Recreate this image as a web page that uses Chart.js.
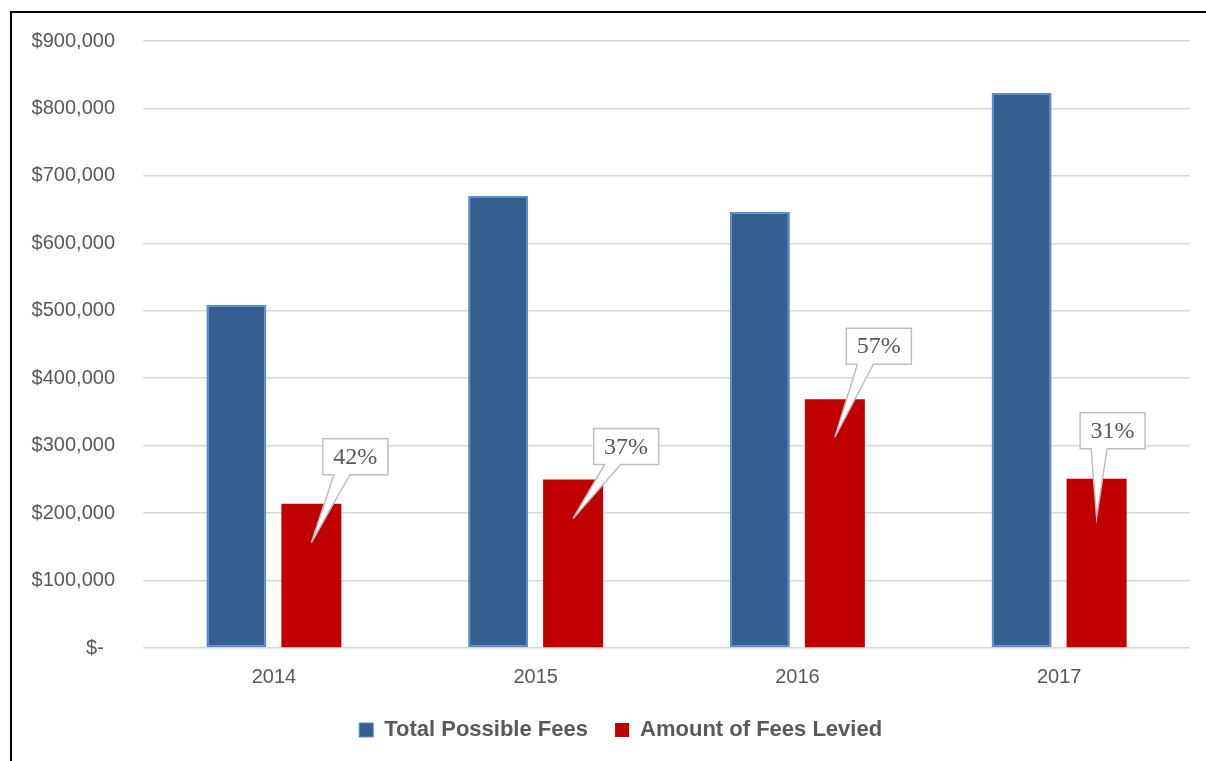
<!DOCTYPE html>
<html>
<head>
<meta charset="utf-8">
<script src="https://cdn.jsdelivr.net/npm/chart.js@4"></script>
<style>
  html, body { margin: 0; padding: 0; background: #fff; }
  #wrap { position: relative; width: 1206px; height: 761px; overflow: hidden; }
  #frame { position: absolute; left: 10px; top: 11px; width: 1200px; height: 760px;
           border-left: 2px solid #000; border-top: 2px solid #000; }
  canvas { position: absolute; left: 0; top: 0; }
</style>
</head>
<body>
<div id="wrap">
  <div id="frame"></div>
  <canvas id="feesChart" width="1206" height="761"></canvas>
</div>
<script>
const years = ['2014', '2015', '2016', '2017'];
const totalPossible = [509000, 670000, 647000, 823000];
const feesLevied = [214000, 250000, 369000, 251000];
const levyRates = ['42%', '37%', '57%', '31%'];
const yTicks = [0, 100000, 200000, 300000, 400000, 500000, 600000, 700000, 800000, 900000];

// where each callout sits, relative to the top centre of its red bar
const calloutPlace = [
  { dx: 44, dy: -29, tip: 39 },
  { dx: 53, dy: -15, tip: 39 },
  { dx: 44, dy: -35, tip: 38 },
  { dx: 16, dy: -30, tip: 39 }
];

const sans = '"Liberation Sans Narrow", "Arial Narrow", "Liberation Sans", Arial, sans-serif';

const calloutPlugin = {
  id: 'callouts',
  afterDatasetsDraw(chart) {
    const ctx = chart.ctx;
    const bars = chart.getDatasetMeta(1).data;
    bars.forEach((bar, i) => {
      const p = calloutPlace[i];
      const w = 65, h = 36;
      const cx = bar.x + p.dx;
      const bottom = bar.y + p.dy;
      const left = cx - w / 2, top = bottom - h;
      const tipX = bar.x, tipY = bar.y + p.tip;
      ctx.save();
      ctx.beginPath();
      ctx.moveTo(left, top);
      ctx.lineTo(left + w, top);
      ctx.lineTo(left + w, bottom);
      ctx.lineTo(left + 27, bottom);
      ctx.lineTo(tipX, tipY);
      ctx.lineTo(left + 11, bottom);
      ctx.lineTo(left, bottom);
      ctx.closePath();
      ctx.fillStyle = '#ffffff';
      ctx.fill();
      ctx.strokeStyle = '#bfbfbf';
      ctx.lineWidth = 1.5;
      ctx.stroke();
      ctx.fillStyle = '#595959';
      ctx.font = '24px "Liberation Serif", "DejaVu Serif", serif';
      ctx.textAlign = 'center';
      ctx.textBaseline = 'middle';
      ctx.fillText(levyRates[i], cx, top + h / 2 + 1);
      ctx.restore();
    });
  }
};

const ctx = document.getElementById('feesChart').getContext('2d');

const feesChart = new Chart(ctx, {
  type: 'bar',
  data: {
    labels: years,
    datasets: [{
      label: 'Total Possible Fees',
      data: totalPossible,
      backgroundColor: '#365f91',
      borderColor: '#5b8cc8',
      borderWidth: 2,
      borderSkipped: false
    }, {
      label: 'Amount of Fees Levied',
      data: feesLevied,
      backgroundColor: '#c00000',
      borderWidth: 0
    }]
  },
  options: {
    responsive: false,
    animation: false,
    categoryPercentage: 0.573,
    barPercentage: 0.8,
    layout: { padding: { top: 41, right: 16, bottom: 10, left: 0 } },
    scales: {
      x: {
        grid: { display: false },
        border: { display: false },
        ticks: { color: '#595959', font: { family: sans, size: 20 }, padding: 9 }
      },
      y: {
        min: 0,
        max: 900000,
        afterFit(scale) { scale.width = 143; },
        afterBuildTicks(scale) { scale.ticks = yTicks.map(v => ({ value: v })); },
        grid: { color: '#d9d9d9', lineWidth: 1.5, drawTicks: false },
        border: { display: false },
        ticks: {
          color: '#595959',
          font: { family: sans, size: 20 },
          padding: 28,
          callback: v => v === 0 ? '$-  ' : '$' + v.toLocaleString('en-US')
        }
      }
    },
    plugins: {
      legend: {
        position: 'bottom',
        fullSize: false,
        labels: {
          color: '#595959',
          font: { family: sans, size: 22, weight: 'bold' },
          boxWidth: 14,
          boxHeight: 14,
          padding: 21,
          generateLabels(chart) {
            // trailing blanks on the last entry nudge the centred legend left
            return chart.data.datasets.map((ds, i) => ({
              text: i === 0 ? ds.label + ' ' : ds.label + '               ',
              fillStyle: ds.backgroundColor,
              strokeStyle: i === 0 ? '#5b8cc8' : ds.backgroundColor,
              lineWidth: i === 0 ? 1 : 0,
              datasetIndex: i,
              fontColor: '#595959'
            }));
          }
        }
      },
      tooltip: { enabled: false }
    }
  },
  plugins: [calloutPlugin]
});
</script>
</body>
</html>
